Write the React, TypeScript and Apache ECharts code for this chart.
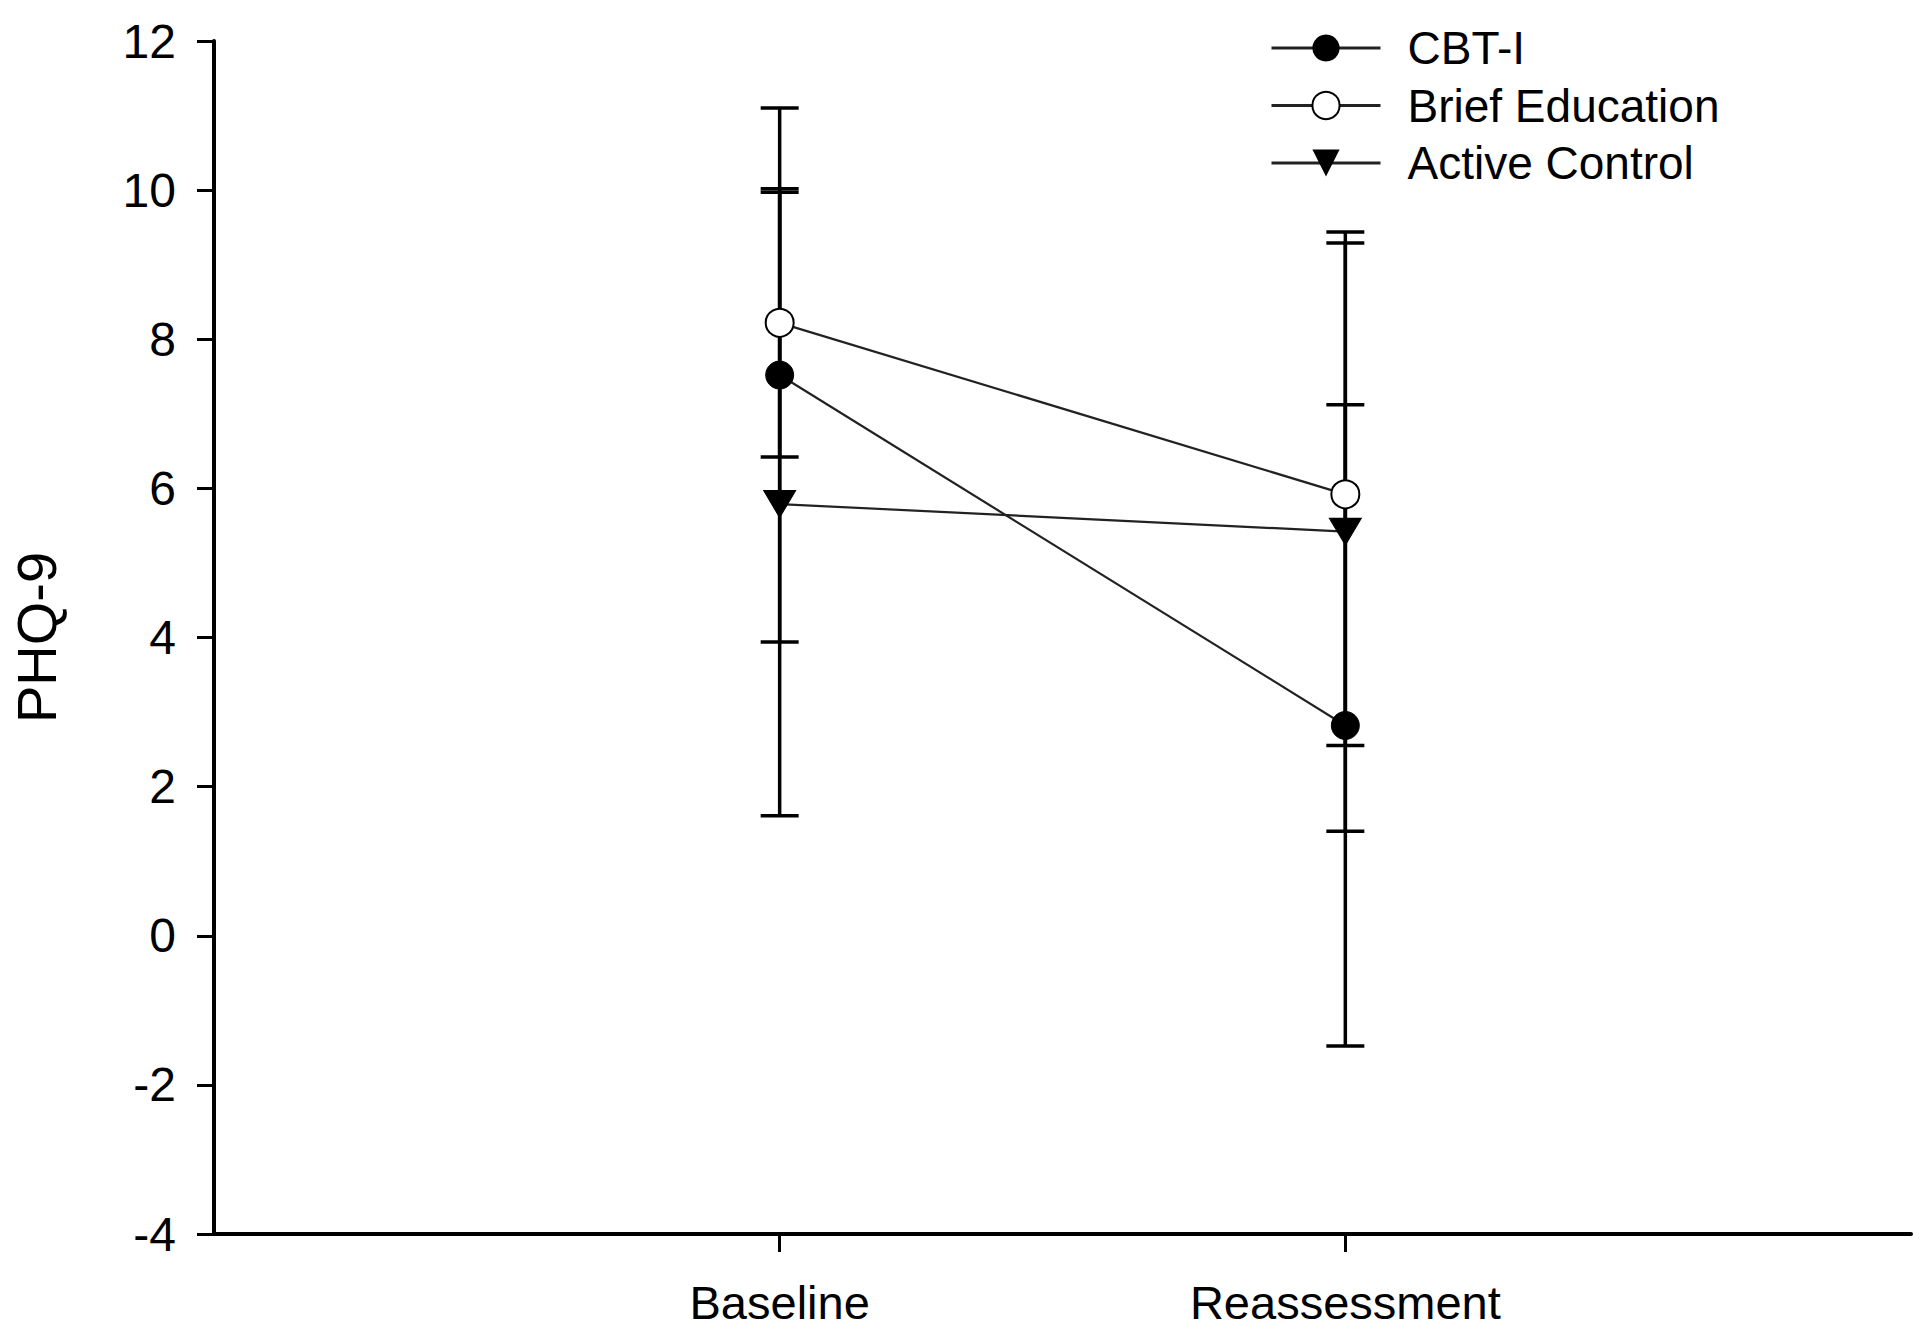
import React, { useEffect, useRef } from "react";
import * as echarts from "echarts";

const categories = ["Baseline", "Reassessment"];
const xPositions = [1, 2];
const yTicks = [-4, -2, 0, 2, 4, 6, 8, 10, 12];

const seriesNames = ["CBT-I", "Brief Education", "Active Control"];
const cbtMean = [7.52, 2.82];
const cbtErr = [3.58, 4.3];
const briefMean = [8.22, 5.92];
const briefErr = [1.8, 3.37];
const activeMean = [5.79, 5.42];
const activeErr = [4.18, 4.02];

const FONT = "'Liberation Sans', Arial, Helvetica, sans-serif";

export default function App() {
  const ref = useRef<HTMLDivElement>(null);
  useEffect(() => {
    document.body.style.margin = "0";
    const chart = echarts.init(ref.current!, null, { renderer: "svg" });

    const pts = (m: number[]) => xPositions.map((x, i) => [x, m[i]]);
    const bars = (m: number[], e: number[]) =>
      xPositions.map((x, i) => [x, m[i] - e[i], m[i] + e[i]]);

    const errSeries = (name: string, m: number[], e: number[]) => ({
      type: "custom",
      name,
      data: bars(m, e),
      encode: { x: 0, y: [1, 2] },
      z: 2,
      silent: true,
      renderItem: (params: any, api: any) => {
        const x = api.value(0);
        const pLo = api.coord([x, api.value(1)]);
        const pHi = api.coord([x, api.value(2)]);
        const hw = 19;
        const st = { stroke: "#000", lineWidth: 3.5 };
        return {
          type: "group",
          children: [
            { type: "line", shape: { x1: pLo[0], y1: pLo[1], x2: pHi[0], y2: pHi[1] }, style: st },
            { type: "line", shape: { x1: pHi[0] - hw, y1: pHi[1], x2: pHi[0] + hw, y2: pHi[1] }, style: st },
            { type: "line", shape: { x1: pLo[0] - hw, y1: pLo[1], x2: pLo[0] + hw, y2: pLo[1] }, style: st },
          ],
        };
      },
    });

    const lineBase = {
      type: "line",
      z: 3,
      lineStyle: { color: "#222", width: 2.2 },
      symbolSize: 28,
    };

    chart.setOption({
      animation: false,
      backgroundColor: "#fff",
      grid: { left: 203, right: 9, top: 41, bottom: 102 },
      legend: {
        orient: "vertical",
        left: 1265,
        top: 20,
        itemWidth: 109,
        itemHeight: 34,
        itemGap: 11.5,
        data: seriesNames,
        lineStyle: { width: 3 },
        textStyle: {
          fontFamily: FONT,
          fontSize: 46,
          color: "#000",
          padding: [0, 0, 0, 22],
        },
      },
      xAxis: {
        type: "value",
        min: 0,
        max: 3,
        interval: 1,
        splitLine: { show: false },
        axisLine: { onZero: false, lineStyle: { color: "#000", width: 4 } },
        axisTick: {
          show: true,
          length: 18,
          lineStyle: { color: "#000", width: 3 },
          customValues: xPositions,
        },
        axisLabel: {
          customValues: xPositions,
          formatter: (v: number) => categories[xPositions.indexOf(v)] ?? "",
          fontFamily: FONT,
          fontSize: 47,
          color: "#000",
          margin: 45,
        },
      },
      yAxis: {
        type: "value",
        min: -4,
        max: 12,
        interval: 2,
        name: "PHQ-9",
        nameLocation: "middle",
        nameRotate: 90,
        nameGap: 150,
        nameTextStyle: { fontFamily: FONT, fontSize: 56, color: "#000" },
        splitLine: { show: false },
        axisLine: { show: true, onZero: false, lineStyle: { color: "#000", width: 4 } },
        axisTick: { show: true, length: 17, lineStyle: { color: "#000", width: 3 } },
        axisLabel: {
          fontFamily: FONT,
          fontSize: 48,
          color: "#000",
          margin: 38,
          formatter: (v: number) => (yTicks.includes(v) ? String(v) : ""),
        },
      },
      series: [
        errSeries("err-cbt", cbtMean, cbtErr),
        errSeries("err-brief", briefMean, briefErr),
        errSeries("err-active", activeMean, activeErr),
        {
          ...lineBase,
          name: seriesNames[0],
          data: pts(cbtMean),
          symbol: "circle",
          itemStyle: { color: "#000", borderColor: "#000" },
        },
        {
          ...lineBase,
          name: seriesNames[1],
          data: pts(briefMean),
          symbol: "emptyCircle",
          itemStyle: { color: "#000", borderColor: "#000", borderWidth: 2.2 },
        },
        {
          ...lineBase,
          name: seriesNames[2],
          data: pts(activeMean),
          symbol: "triangle",
          symbolRotate: 180,
          symbolSize: [32, 27],
          itemStyle: { color: "#000", borderColor: "#000" },
        },
      ],
    });
    return () => chart.dispose();
  }, []);
  return (
    <div
      ref={ref}
      style={{ position: "absolute", left: 0, top: 0, width: 1920, height: 1336 }}
    />
  );
}
